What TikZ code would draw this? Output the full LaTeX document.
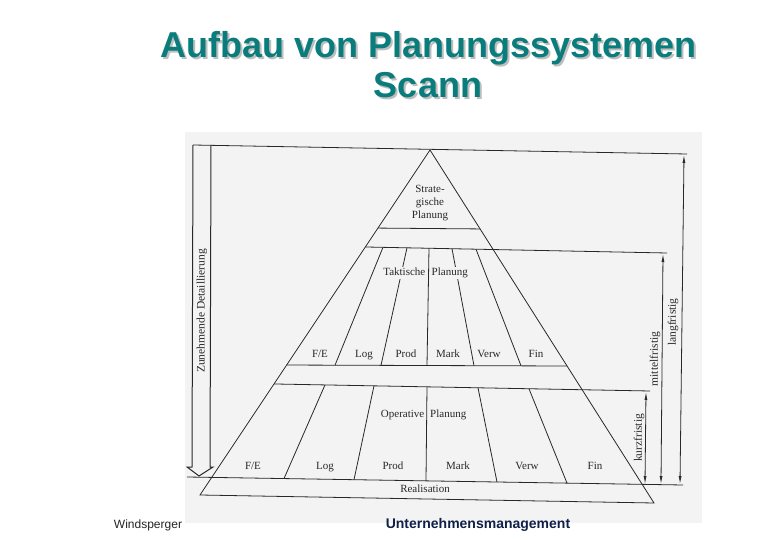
\documentclass[tikz,border=0pt]{standalone}
\usepackage{fontspec}
\setmainfont{Liberation Serif}
\newfontfamily\arialfont{Liberation Sans}
\usetikzlibrary{arrows.meta}
\definecolor{scanbg}{RGB}{243,243,243}
\definecolor{inkc}{RGB}{40,40,40}
\definecolor{titlec}{RGB}{10,124,124}
\definecolor{shadowc}{RGB}{190,190,190}
\definecolor{footc}{RGB}{16,32,72}
\begin{document}
\begin{tikzpicture}[x=1pt,y=-1pt,
  ink/.style={draw=inkc,line width=0.8pt},
  lbl/.style={font=\fontsize{11}{13}\selectfont,text=inkc,inner sep=0pt,text height=7.5pt,text depth=2.5pt},
  masklbl/.style={lbl,fill=scanbg,inner xsep=0.5pt,inner ysep=1pt},
  mlbl/.style={font=\fontsize{11}{13}\selectfont,text=inkc,inner sep=0pt},
  vlbl/.style={mlbl,rotate=90,font=\fontsize{11.5}{13}\selectfont},
  dimarrow/.style={ink,{Latex[length=8pt,width=3pt]}-{Latex[length=8pt,width=3pt]}},
  titletxt/.style={font=\arialfont\bfseries\fontsize{36}{40}\selectfont,inner sep=0pt,anchor=base}
]
\useasboundingbox (0,0) rectangle (780,540);
\fill[white] (0,0) rectangle (780,540);
\fill[scanbg] (185,132) rectangle (702,523);

% title
\node[titletxt,text=shadowc] (t1s) at (430.5,59.5) {Aufbau von Planungssystemen};
\node[titletxt,text=titlec] (t1) at (428.5,57.5) {Aufbau von Planungssystemen};
\node[titletxt,text=shadowc] (t2s) at (430,100) {Scann};
\node[titletxt,text=titlec] (t2) at (428,98) {Scann};

% pyramid corners
\coordinate (apex) at (430,150);
\coordinate (bl) at (200,495);
\coordinate (br) at (654,503);
\draw[ink] (bl) -- (apex) -- (br) -- cycle;

% frame lines
\coordinate (topL) at (193,145);
\coordinate (topR) at (687,154);
\draw[ink] (topL) -- (topR);

\coordinate (s1) at (370,228);
\coordinate (s2) at (490,229);
\draw[ink] (intersection of apex--bl and s1--s2) -- (intersection of apex--br and s1--s2);

\coordinate (m1) at (367,247);
\coordinate (mR) at (667,253);
\draw[ink] (intersection of apex--bl and m1--mR) -- (mR);

\coordinate (tb1) at (287,365);
\coordinate (tb2) at (567,366);
\draw[ink] (intersection of apex--bl and tb1--tb2) -- (intersection of apex--br and tb1--tb2);

\coordinate (o1) at (277,384);
\coordinate (oR) at (650,391);
\draw[ink] (intersection of apex--bl and o1--oR) -- (oR);

\coordinate (baseL) at (187,477);
\coordinate (baseR) at (683,485);
\draw[ink] (baseL) -- (baseR);

% tactical dividers
\draw[ink] (383,247.3) -- (335,365.2);
\draw[ink] (407,247.8) -- (381,365.3);
\draw[ink] (429,248.2) -- (427,365.5);
\draw[ink] (452,248.7) -- (474,365.7);
\draw[ink] (476,249.2) -- (521,365.8);

% operative dividers
\draw[ink] (325,384.9) -- (284,478.6);
\draw[ink] (374,385.8) -- (354,479.7);
\draw[ink] (427,386.8) -- (426,480.9);
\draw[ink] (478,387.8) -- (497,482.0);
\draw[ink] (529,388.8) -- (567,483.1);

% right dimension arrows
\coordinate (la1) at (684,155);
\coordinate (la2) at (680,484);
\coordinate (ma1) at (663,254);
\coordinate (ma2) at (661,484);
\coordinate (ka1) at (646,392);
\coordinate (ka2) at (645,484);
\draw[dimarrow] (la1) -- (la2);
\draw[dimarrow] (ma1) -- (ma2);
\draw[dimarrow] (ka1) -- (ka2);
\node[vlbl] (lang) at (673,322) {langfristig};
\node[vlbl] (mittel) at (655,359) {mittelfristig};
\node[vlbl] (kurz) at (639,438) {kurzfristig};

% left block arrow
\draw[ink,line width=1pt] (193,145) -- (192,467) -- (187,467) -- (199,476) -- (213,467) -- (210,467) -- (211,145);
\node[vlbl] (zd) at (202,311) {Zunehmende Detaillierung};

% pyramid texts
\node[mlbl,align=center] (strat) at (430,203) {Strate-\\gische\\Planung};
\node[masklbl,anchor=east] (takt1) at (426,273) {Taktische};
\node[masklbl,anchor=west] (takt2) at (431,273) {Planung};
\node[lbl] (tFE) at (320,355) {F/E};
\node[lbl] (tLog) at (364,355) {Log};
\node[lbl] (tProd) at (406,355) {Prod};
\node[lbl] (tMark) at (448,355) {Mark};
\node[lbl] (tVerw) at (489,355) {Verw};
\node[lbl] (tFin) at (536,355) {Fin};
\node[masklbl,anchor=east] (oper1) at (425,415) {Operative};
\node[masklbl,anchor=west] (oper2) at (429.5,415) {Planung};
\node[lbl] (oFE) at (253,467) {F/E};
\node[lbl] (oLog) at (325,467) {Log};
\node[lbl] (oProd) at (393,467) {Prod};
\node[lbl] (oMark) at (458,467) {Mark};
\node[lbl] (oVerw) at (527,467) {Verw};
\node[lbl] (oFin) at (595,467) {Fin};
\node[lbl] (real) at (425,490) {Realisation};

% footer
\node[font=\arialfont\fontsize{12}{14}\selectfont,text=black!85,inner sep=0pt] (foot1) at (148,525) {Windsperger};
\node[font=\arialfont\bfseries\fontsize{14}{16}\selectfont,text=footc,inner sep=0pt] (foot2) at (478,525) {Unternehmensmanagement};
\end{tikzpicture}
\end{document}
